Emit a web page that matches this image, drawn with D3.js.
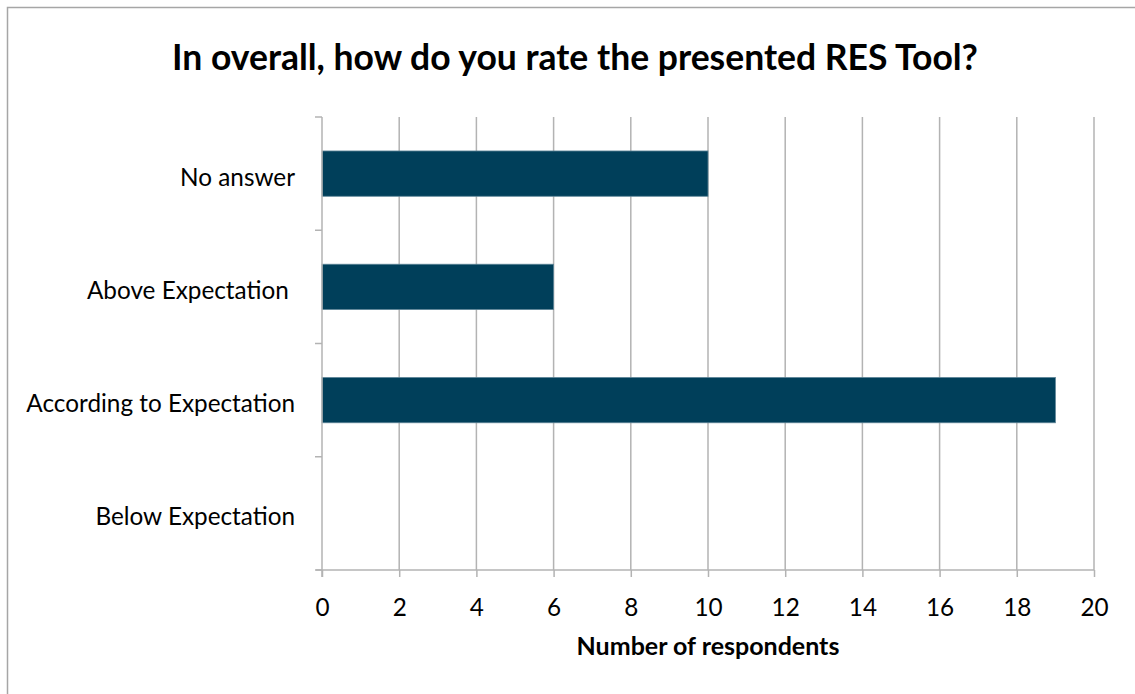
<!DOCTYPE html>
<html>
<head>
<meta charset="utf-8">
<script src="https://cdn.jsdelivr.net/npm/d3@7"></script>
<style>
  html, body { margin: 0; padding: 0; background: #fff; }
  svg { display: block; }
  text { font-family: Lato, "Open Sans", sans-serif; fill: #000; }
</style>
</head>
<body>
<svg id="chart" width="1135" height="694"></svg>
<script>
// Survey responses, listed top to bottom as shown
const categories = ["No answer", "Above Expectation ", "According to Expectation", "Below Expectation"];
const respondents = [10, 6, 19, 0];
const xTickValues = [0, 2, 4, 6, 8, 10, 12, 14, 16, 18, 20];

const titleText = "In overall, how do you rate the presented RES Tool?";
const xAxisTitle = "Number of respondents";

const svg = d3.select("#chart");
const W = 1135, H = 694;
const plot = { left: 322, right: 1094, top: 117, bottom: 570 };
const labelSize = 24.3;

// outer frame (right and bottom edges fall outside the canvas)
svg.append("rect")
  .attr("x", 7.5).attr("y", 7.5)
  .attr("width", W + 20).attr("height", H + 20)
  .attr("fill", "none").attr("stroke", "#a6a6a6").attr("stroke-width", 1.5);

const x = d3.scaleLinear().domain([0, 20]).range([plot.left, plot.right]);
const y = d3.scaleBand().domain(categories).range([plot.top, plot.bottom])
  .paddingInner(0.6).paddingOuter(0.3);
const yEdges = d3.scaleLinear().domain([0, categories.length]).range([plot.top, plot.bottom]);

const gridColor = "#b3b3b3";

// vertical gridlines
svg.append("g").selectAll("line")
  .data(xTickValues.filter(v => v > 0))
  .join("line")
  .attr("x1", d => x(d)).attr("x2", d => x(d))
  .attr("y1", plot.top).attr("y2", plot.bottom)
  .attr("stroke", gridColor).attr("stroke-width", 1.5);

// bars
svg.append("g").selectAll("rect")
  .data(categories.map((c, i) => ({ c, v: respondents[i] })))
  .join("rect")
  .attr("x", x(0))
  .attr("y", d => y(d.c))
  .attr("width", d => x(d.v) - x(0))
  .attr("height", y.bandwidth())
  .attr("fill", "#003f5a")
  .attr("stroke", d => d.v > 0 ? "#5d8497" : "none")
  .attr("stroke-width", 0.8);

// x axis
const xAxis = d3.axisBottom(x).tickValues(xTickValues).tickSize(7).tickPadding(22).tickSizeOuter(0);
const gx = svg.append("g").attr("transform", `translate(0,${plot.bottom})`).call(xAxis);
gx.attr("font-family", null).attr("font-size", null);
gx.select(".domain").attr("stroke", gridColor).attr("stroke-width", 1.5)
  .attr("d", `M${plot.left - 6},0H${plot.right}`);
gx.selectAll(".tick line").attr("stroke", gridColor).attr("stroke-width", 1.5);
gx.selectAll(".tick text").attr("font-size", labelSize).attr("fill", "#000");

// y axis line and tick marks at category boundaries
svg.append("line")
  .attr("x1", plot.left).attr("x2", plot.left)
  .attr("y1", plot.top).attr("y2", plot.bottom + 7)
  .attr("stroke", gridColor).attr("stroke-width", 1.5);
svg.append("g").selectAll("line")
  .data(d3.range(categories.length + 1))
  .join("line")
  .attr("x1", plot.left - 7).attr("x2", plot.left)
  .attr("y1", d => yEdges(d)).attr("y2", d => yEdges(d))
  .attr("stroke", gridColor).attr("stroke-width", 1.5);

// category labels
svg.append("g").selectAll("text")
  .data(categories)
  .join("text")
  .attr("x", 295)
  .attr("y", d => y(d) + y.bandwidth() / 2 + 12)
  .attr("text-anchor", "end")
  .attr("font-size", labelSize)
  .style("white-space", "pre")
  .text(d => d);

// title
svg.append("text")
  .attr("x", 575).attr("y", 70)
  .attr("text-anchor", "middle")
  .attr("font-size", 35.5).attr("font-weight", "bold")
  .text(titleText);

// x axis title
svg.append("text")
  .attr("x", 708).attr("y", 655)
  .attr("text-anchor", "middle")
  .attr("font-size", 25).attr("font-weight", "bold")
  .text(xAxisTitle);
</script>
</body>
</html>
